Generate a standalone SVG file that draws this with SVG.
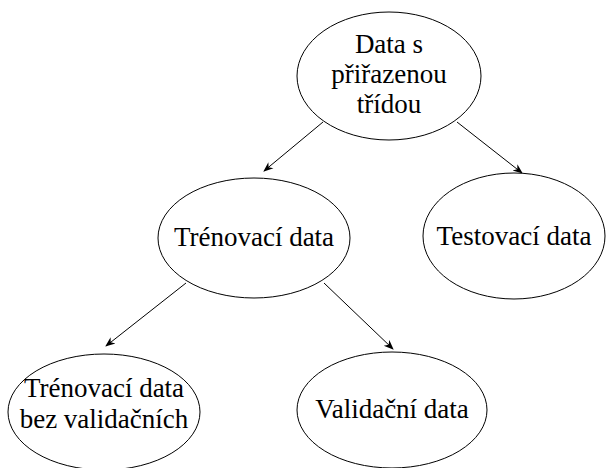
<svg xmlns="http://www.w3.org/2000/svg" width="608" height="468" viewBox="0 0 608 468">
<defs>
<marker id="ah" viewBox="0 0 10 10" refX="9" refY="5" markerWidth="10" markerHeight="10" markerUnits="userSpaceOnUse" orient="auto">
<path d="M0,1 L10,5 L0,9 L3,5 Z" fill="#000"/>
</marker>
</defs>
<style>
.n ellipse{fill:#fff;stroke:#000;stroke-width:1}
.n text{font-family:"Liberation Serif","DejaVu Serif",serif;font-size:27px;fill:#000;text-anchor:middle}
.c line{stroke:#000;stroke-width:1;marker-end:url(#ah)}
</style>
<rect width="608" height="468" fill="#fff"/>
<g class="c">
<line x1="323" y1="122" x2="264" y2="171"/>
<line x1="457" y1="122" x2="522" y2="173"/>
<line x1="186" y1="283" x2="106" y2="346"/>
<line x1="324" y1="283" x2="393" y2="349"/>
</g>
<g class="n" id="root">
<ellipse cx="389" cy="76" rx="92" ry="64"/>
<text x="389" y="53">Data s</text>
<text x="389" y="83">přiřazenou</text>
<text x="389" y="113">třídou</text>
</g>
<g class="n" id="train">
<ellipse cx="254" cy="238" rx="96" ry="60"/>
<text x="254" y="246">Trénovací data</text>
</g>
<g class="n" id="test">
<ellipse cx="514" cy="236" rx="91" ry="63"/>
<text x="514" y="245">Testovací data</text>
</g>
<g class="n" id="trainnoval">
<ellipse cx="104" cy="412" rx="96" ry="58"/>
<text x="104" y="397">Trénovací data</text>
<text x="104" y="428">bez validačních</text>
</g>
<g class="n" id="val">
<ellipse cx="392" cy="410" rx="95" ry="58"/>
<text x="392" y="418">Validační data</text>
</g>
</svg>
